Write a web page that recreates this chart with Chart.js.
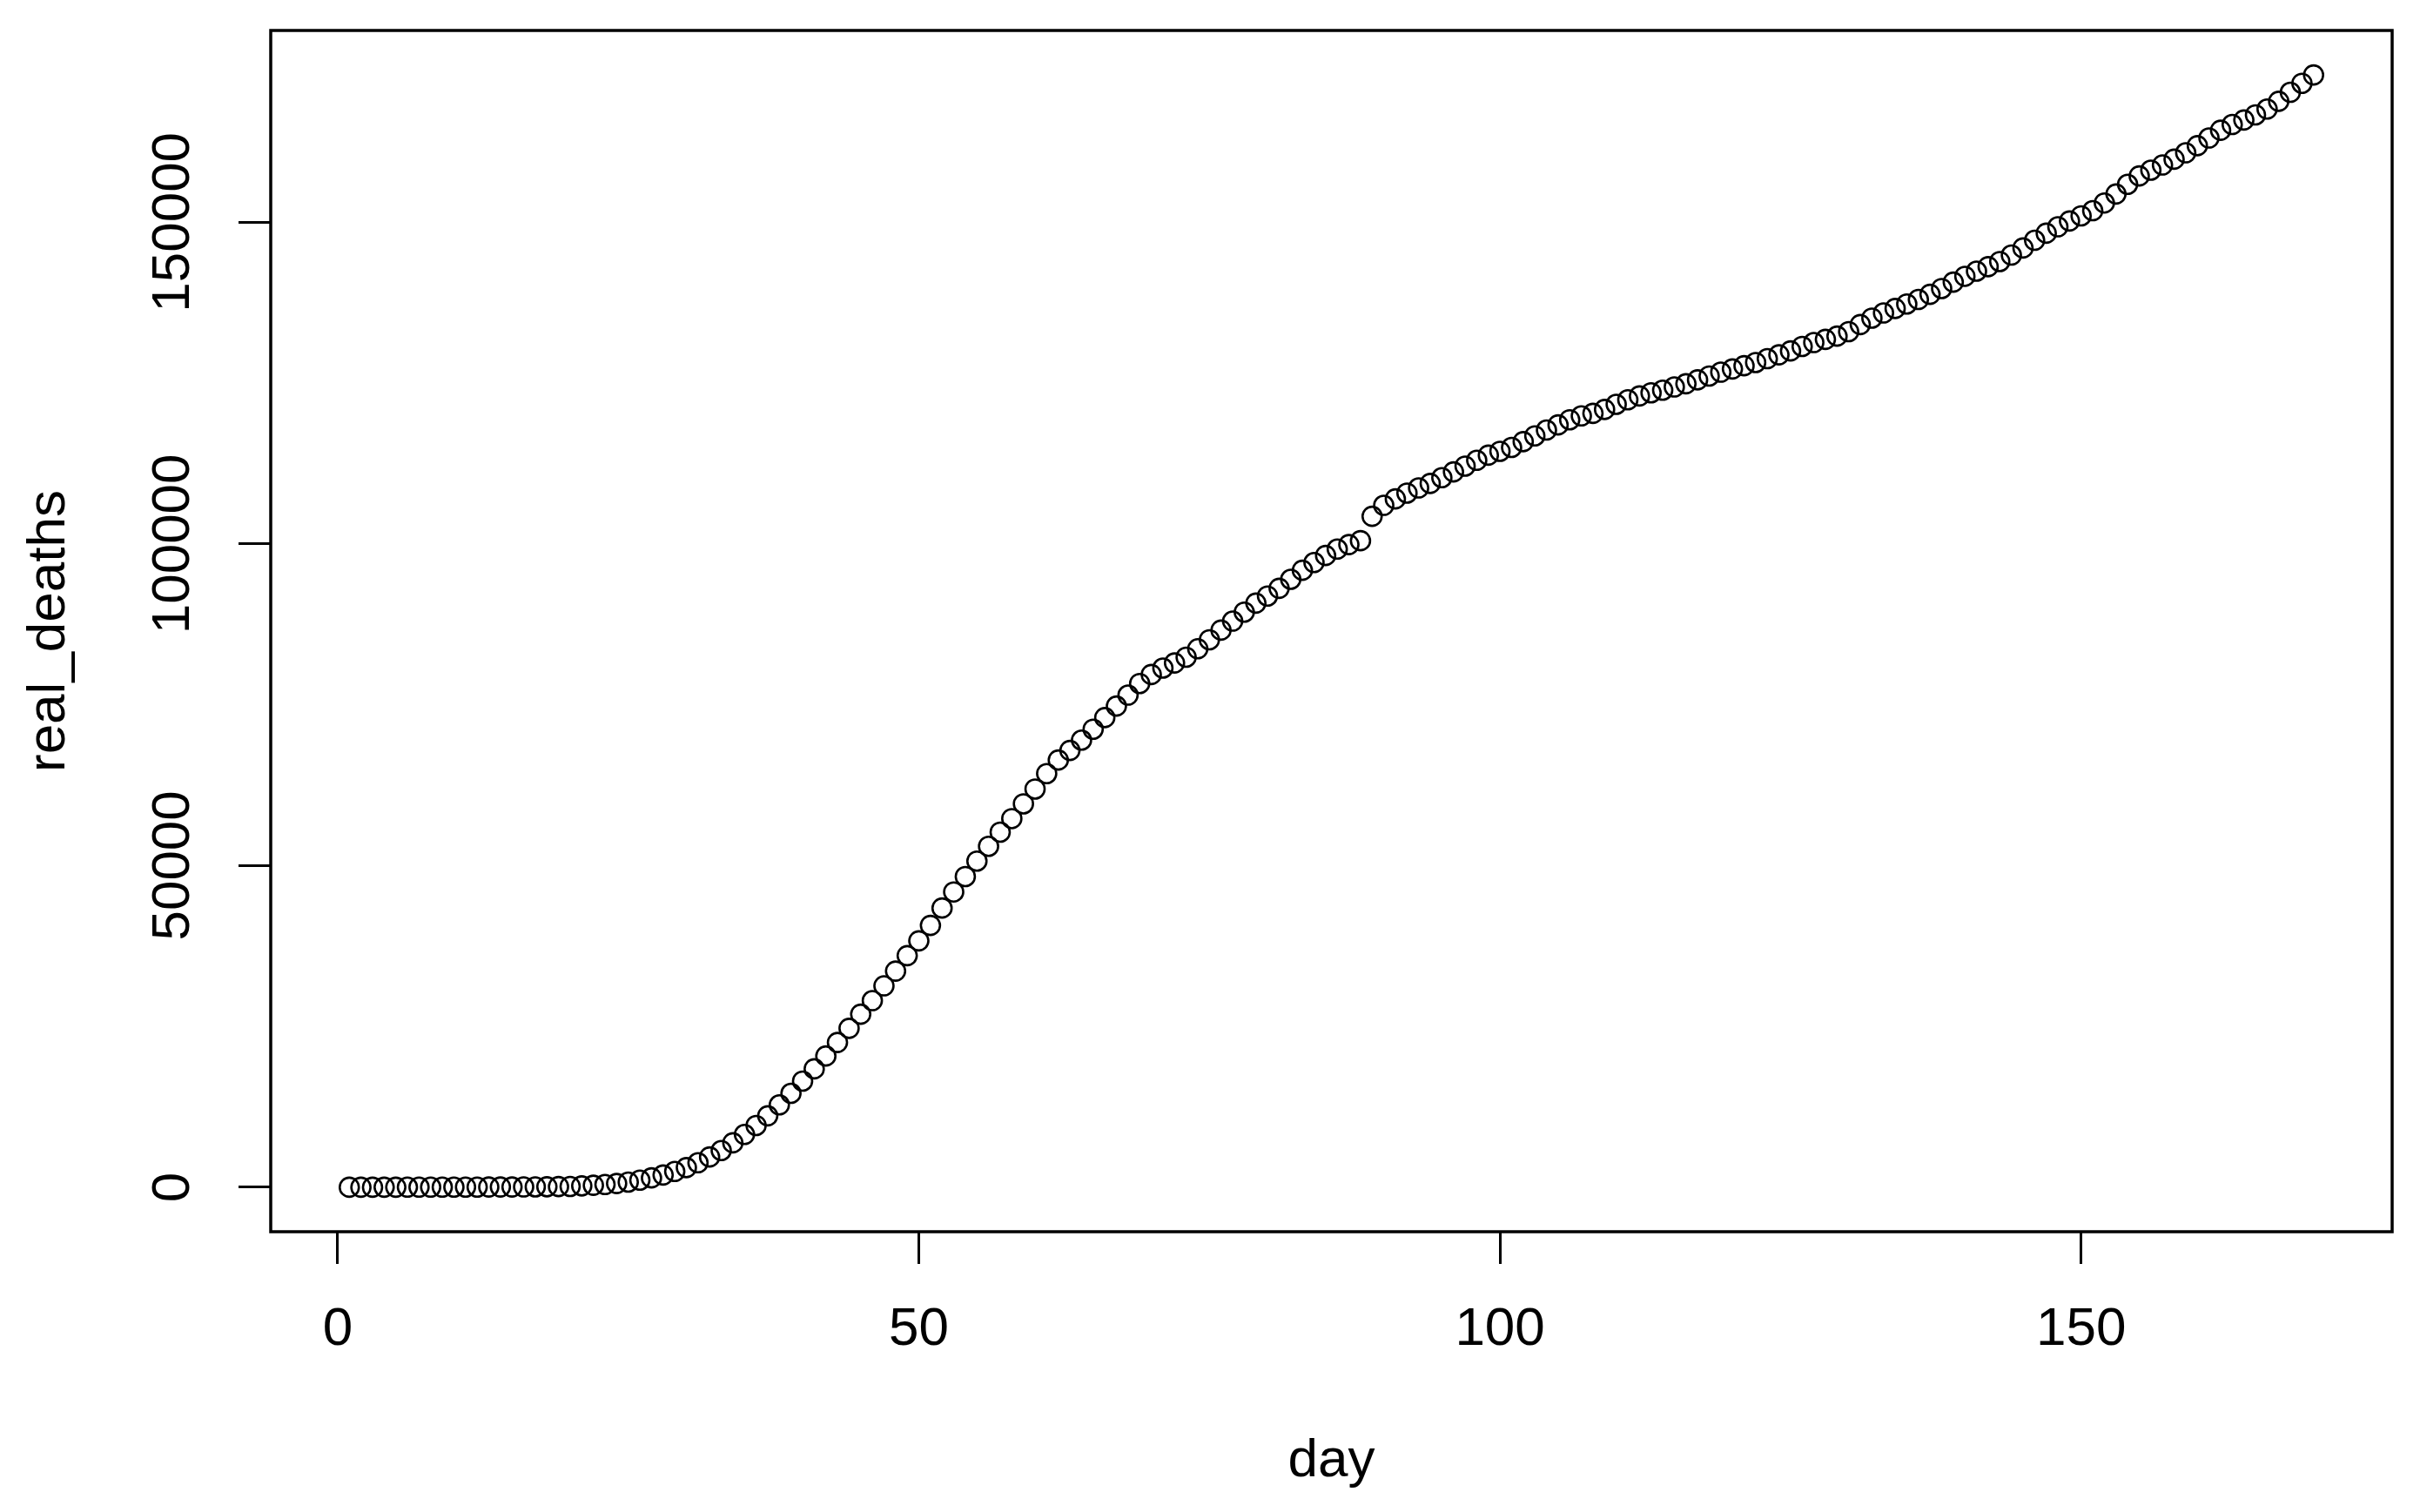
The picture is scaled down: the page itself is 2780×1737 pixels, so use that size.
<!DOCTYPE html>
<html>
<head>
<meta charset="utf-8">
<script src="https://cdn.jsdelivr.net/npm/chart.js@4/dist/chart.umd.min.js"></script>
<style>
  html, body { margin: 0; padding: 0; background: #fff; }
  #wrap { width: 2780px; height: 1737px; }
</style>
</head>
<body>
<div id="wrap"><canvas id="plot" width="2780" height="1737"></canvas></div>
<script>
// cumulative deaths per day
const realDeaths = [
    0, 1, 1, 2, 6, 9, 11, 12, 15, 19,
    22, 26, 30, 38, 41, 48, 58, 73, 100, 130,
    210, 300, 420, 580, 800, 1100, 1450, 1900, 2450, 3050,
    3800, 4700, 5700, 6900, 8200, 9600, 11100, 12800, 14600, 16500,
    18400, 20400, 22500, 24700, 26900, 29000, 31300, 33600, 36000, 38300,
    40700, 43400, 45900, 48300, 50700, 53000, 55200, 57300, 59600, 61900,
    64300, 66400, 67900, 69500, 71200, 73000, 74800, 76500, 78300, 79700,
    80700, 81500, 82400, 83700, 85100, 86600, 88000, 89400, 90800, 91900,
    93100, 94500, 95900, 97100, 98200, 99200, 99900, 100500, 104300, 106000,
    107000, 107900, 108700, 109400, 110300, 111200, 112100, 113000, 113800, 114400,
    115000, 115900, 116800, 117700, 118500, 119300, 119900, 120300, 120900, 121700,
    122400, 123000, 123500, 123900, 124400, 124900, 125500, 126100, 126700, 127200,
    127700, 128200, 128800, 129400, 130000, 130700, 131300, 131800, 132300, 133000,
    134100, 135100, 135900, 136600, 137300, 138000, 138800, 139700, 140700, 141600,
    142400, 143100, 143900, 144900, 146000, 147200, 148300, 149300, 150200, 151000,
    151800, 153000, 154400, 155900, 157200, 158100, 158900, 159800, 160800, 161900,
    163100, 164300, 165200, 165900, 166700, 167600, 168800, 170200, 171600, 172900
];
const days = realDeaths.map((v, i) => i + 1);

const xTicks = [0, 50, 100, 150];
const yTicks = [0, 50000, 100000, 150000];

const xTitle = 'day';
const yTitle = 'real_deaths';

// R pads the data range by 4% on each side
function padRange(values) {
    const lo = Math.min(...values);
    const hi = Math.max(...values);
    const d = (hi - lo) * 0.04;
    return [lo - d, hi + d];
}
const [xMin, xMax] = padRange(days);
const [yMin, yMax] = padRange(realDeaths);

const FONT = { family: "'Liberation Sans', Arial, sans-serif", size: 62 };

// box around the plot region, like R's box()
const boxPlugin = {
    id: 'box',
    afterDraw(chart) {
        const { ctx, chartArea: a } = chart;
        ctx.save();
        ctx.strokeStyle = '#000';
        ctx.lineWidth = 3.5;
        ctx.strokeRect(a.left, a.top, a.right - a.left, a.bottom - a.top);
        ctx.restore();
    }
};

const ctx = document.getElementById('plot').getContext('2d');
new Chart(ctx, {
    type: 'scatter',
    data: {
        datasets: [{
            label: yTitle,
            data: days.map((d, i) => ({ x: d, y: realDeaths[i] })),
            showLine: false,
            pointStyle: 'circle',
            pointRadius: 11,
            pointBorderWidth: 2.6,
            pointBorderColor: '#000',
            pointBackgroundColor: 'rgba(0,0,0,0)',
            pointHoverRadius: 11
        }]
    },
    options: {
        responsive: false,
        animation: false,
        devicePixelRatio: 1,
        layout: { padding: { top: 35, right: 32, left: 0, bottom: 0 } },
        plugins: {
            legend: { display: false },
            tooltip: { enabled: false }
        },
        events: [],
        scales: {
            x: {
                type: 'linear',
                min: xMin,
                max: xMax,
                afterBuildTicks: (scale) => { scale.ticks = xTicks.map(v => ({ value: v })); },
                afterFit: (scale) => { scale.height = 322; },
                border: { display: false },
                grid: {
                    drawOnChartArea: false,
                    drawTicks: true,
                    tickLength: 37,
                    tickWidth: 3,
                    tickColor: '#000'
                },
                ticks: {
                    font: FONT,
                    color: '#000',
                    padding: 39,
                    maxRotation: 0,
                    autoSkip: false
                },
                title: {
                    display: true,
                    text: xTitle,
                    font: FONT,
                    color: '#000',
                    padding: { top: 0, bottom: 21 }
                }
            },
            y: {
                type: 'linear',
                min: yMin,
                max: yMax,
                afterBuildTicks: (scale) => { scale.ticks = yTicks.map(v => ({ value: v })); },
                afterFit: (scale) => { scale.width = 311; },
                border: { display: false },
                grid: {
                    drawOnChartArea: false,
                    drawTicks: true,
                    tickLength: 37,
                    tickWidth: 3,
                    tickColor: '#000'
                },
                ticks: {
                    font: FONT,
                    color: '#000',
                    minRotation: 90,
                    maxRotation: 90,
                    crossAlign: 'center',
                    padding: -29,
                    autoSkip: false,
                    callback: (v) => String(v)
                },
                title: {
                    display: true,
                    text: yTitle,
                    font: FONT,
                    color: '#000',
                    padding: { top: 20, bottom: 0 }
                }
            }
        }
    },
    plugins: [boxPlugin]
});
</script>
</body>
</html>
